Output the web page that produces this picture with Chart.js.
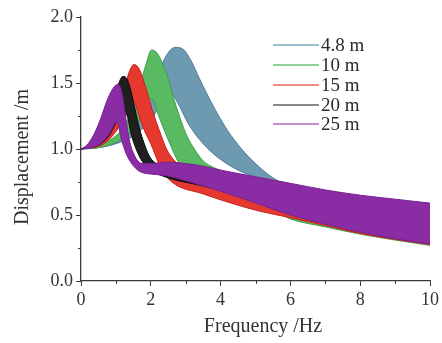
<!DOCTYPE html>
<html>
<head>
<meta charset="utf-8">
<script src="https://cdn.jsdelivr.net/npm/chart.js@4.4.1/dist/chart.umd.min.js"></script>
<style>
  html, body { margin: 0; padding: 0; background: #fff; }
  #wrap { width: 442px; height: 343px; }
</style>
</head>
<body>
<div id="wrap"><canvas id="chart" width="442" height="343"></canvas></div>
<script>
// series names (pile heights)
const heights = ["4.8 m", "10 m", "15 m", "20 m", "25 m"];

// each family of curves is drawn as a band: upper and lower edge, [freq Hz, displacement m]
const upper48 = [[0,1.0],[0.5,1.02],[1.0,1.07],[1.5,1.18],[1.9,1.36],[2.2,1.56],[2.45,1.71],[2.7,1.77],[2.95,1.75],[3.15,1.67],[3.4,1.53],[3.8,1.32],[4.2,1.14],[4.6,1.0],[5.0,0.89],[5.4,0.8],[5.8,0.74],[6.5,0.69],[7.5,0.63],[8.5,0.58],[10,0.52]];
const lower48 = [[0,1.0],[0.5,1.01],[1.0,1.04],[1.5,1.1],[2.0,1.22],[2.3,1.35],[2.5,1.45],[2.75,1.36],[3.1,1.18],[3.5,1.04],[4.0,0.92],[4.5,0.84],[5.1,0.77],[5.8,0.66],[7,0.5],[8.5,0.38],[10,0.29]];

const upper10 = [[0,1.0],[0.5,1.03],[1.0,1.1],[1.3,1.2],[1.6,1.4],[1.85,1.63],[2.02,1.75],[2.2,1.72],[2.45,1.57],[2.73,1.32],[3.0,1.12],[3.2,1.02],[3.5,0.91],[3.8,0.86],[4.2,0.82],[5,0.76],[6,0.7],[7,0.65],[8,0.6],[9,0.56],[10,0.53]];
const lower10 = [[0,1.0],[0.5,1.01],[1.0,1.05],[1.4,1.12],[1.7,1.23],[1.95,1.37],[2.05,1.38],[2.2,1.27],[2.5,1.07],[2.82,0.89],[3.2,0.81],[4,0.72],[5,0.6],[6,0.47],[7,0.41],[8,0.355],[9,0.31],[10,0.27]];

const upper15 = [[0,1.0],[0.5,1.04],[0.8,1.12],[1.0,1.22],[1.2,1.4],[1.35,1.56],[1.52,1.64],[1.68,1.6],[1.85,1.47],[2.05,1.29],[2.3,1.1],[2.45,1.0],[2.65,0.92],[2.9,0.86],[3.5,0.8],[4.5,0.72],[6,0.64],[8,0.56],[10,0.5]];
const lower15 = [[0,1.0],[0.5,1.02],[0.8,1.07],[1.1,1.17],[1.3,1.26],[1.5,1.36],[1.7,1.22],[1.85,1.12],[2.0,1.04],[2.15,0.94],[2.3,0.85],[2.6,0.75],[3.5,0.66],[4.3,0.59],[5.1,0.53],[6,0.48],[7,0.42],[8,0.36],[9,0.315],[10,0.275]];

const upper20 = [[0,1.0],[0.3,1.03],[0.6,1.12],[0.85,1.28],[1.0,1.42],[1.1,1.51],[1.2,1.55],[1.32,1.53],[1.42,1.45],[1.55,1.3],[1.68,1.15],[1.8,1.05],[1.95,0.95],[2.1,0.9],[2.5,0.86],[3.5,0.8],[5,0.72],[7,0.62],[10,0.5]];
const lower20 = [[0,1.0],[0.5,1.03],[0.8,1.1],[1.0,1.2],[1.15,1.29],[1.3,1.27],[1.45,1.1],[1.55,1.02],[1.7,0.93],[1.9,0.86],[2.3,0.8],[3.5,0.72],[4.3,0.67],[5.1,0.62],[6,0.54],[7,0.45],[8,0.38],[9,0.325],[10,0.285]];

const upper25 = [[0,1.0],[0.17,1.03],[0.35,1.1],[0.55,1.22],[0.75,1.37],[0.92,1.46],[1.05,1.49],[1.15,1.45],[1.25,1.3],[1.33,1.15],[1.4,1.05],[1.5,0.97],[1.6,0.92],[1.75,0.89],[2.0,0.89],[2.5,0.9],[3.0,0.89],[3.5,0.87],[4.0,0.84],[5.0,0.79],[6.0,0.74],[7.0,0.69],[8.0,0.65],[9.0,0.62],[10,0.59]];
const lower25 = [[0,1.0],[0.3,1.01],[0.6,1.05],[0.85,1.13],[1.0,1.2],[1.07,1.18],[1.15,1.08],[1.22,1.02],[1.3,0.96],[1.48,0.88],[1.68,0.83],[2.0,0.81],[2.4,0.8],[3.0,0.76],[4.0,0.68],[4.8,0.61],[6,0.5],[7,0.43],[8,0.37],[9,0.32],[10,0.28]];

const xTicks = [0, 2, 4, 6, 8, 10];
const yTicks = [0.0, 0.5, 1.0, 1.5, 2.0];

const bands = [
  { name: heights[0], up: upper48, lo: lower48, fill: "#6d9ab1", line: "#4d7d97", key: "#9dbccc" },
  { name: heights[1], up: upper10, lo: lower10, fill: "#5aba62", line: "#3d9f48", key: "#8fd095" },
  { name: heights[2], up: upper15, lo: lower15, fill: "#e5382e", line: "#c8231a", key: "#ee8d88" },
  { name: heights[3], up: upper20, lo: lower20, fill: "#1f1f1f", line: "#0a0a0a", key: "#8a8a8a" },
  { name: heights[4], up: upper25, lo: lower25, fill: "#8a2ca4", line: "#7a2094", key: "#bf92cf" }
];

const toPts = arr => arr.map(p => ({ x: p[0], y: p[1] }));

// build datasets: upper edge, then lower edge filled up to it
const datasets = [];
bands.forEach((b, i) => {
  const ord = bands.length - i; // last family on top
  const upIdx = datasets.length;
  datasets.push({
    label: b.name, data: toPts(b.up), borderColor: b.line, borderWidth: 1,
    pointRadius: 0, fill: false, cubicInterpolationMode: "monotone", order: ord
  });
  datasets.push({
    label: b.name + " lo", data: toPts(b.lo), borderColor: b.line, borderWidth: 1,
    pointRadius: 0, backgroundColor: b.fill, fill: { target: upIdx },
    cubicInterpolationMode: "monotone", order: ord
  });
});

const serif = "'Liberation Serif', 'DejaVu Serif', serif";
const axisColor = "#3a3a3a";

// minor ticks, axis titles and legend
const extras = {
  id: "extras",
  afterDraw(chart) {
    const ctx = chart.ctx;
    const xs = chart.scales.x, ys = chart.scales.y;
    const area = chart.chartArea;
    ctx.save();
    ctx.strokeStyle = axisColor;
    ctx.lineWidth = 1;
    for (let v = 1; v < 10; v += 2) {
      const px = Math.round(xs.getPixelForValue(v)) + 0.5;
      ctx.beginPath(); ctx.moveTo(px, area.bottom); ctx.lineTo(px, area.bottom + 3); ctx.stroke();
    }
    for (let v = 0.25; v < 2; v += 0.5) {
      const py = Math.round(ys.getPixelForValue(v)) + 0.5;
      ctx.beginPath(); ctx.moveTo(area.left, py); ctx.lineTo(area.left - 3, py); ctx.stroke();
    }

    // axis titles
    ctx.fillStyle = "#333";
    ctx.font = "20px " + serif;
    ctx.textAlign = "center";
    ctx.textBaseline = "middle";
    ctx.fillText("Frequency /Hz", 263, 327);
    ctx.save();
    ctx.translate(23, 157);
    ctx.rotate(-Math.PI / 2);
    ctx.fillText("Displacement /m", 0, 0);
    ctx.restore();

    // legend
    const rowY = [45, 65, 85, 105, 124];
    ctx.font = "19px " + serif;
    ctx.textBaseline = "middle";
    ctx.textAlign = "left";
    bands.forEach((b, i) => {
      ctx.strokeStyle = b.key;
      ctx.lineWidth = 2;
      ctx.beginPath(); ctx.moveTo(273, rowY[i]); ctx.lineTo(319, rowY[i]); ctx.stroke();
      ctx.fillStyle = "#2a2a2a";
      ctx.fillText(b.name, 321, rowY[i] + 1);
    });
    ctx.restore();
  }
};

new Chart(document.getElementById("chart").getContext("2d"), {
  type: "line",
  data: { datasets },
  options: {
    responsive: false,
    animation: false,
    events: [],
    layout: { padding: { left: 0, right: 10, top: 17, bottom: 0 } },
    plugins: { legend: { display: false }, tooltip: { enabled: false } },
    scales: {
      x: {
        type: "linear", min: 0, max: 10,
        afterBuildTicks: s => { s.ticks = xTicks.map(v => ({ value: v })); },
        afterFit: s => { s.height = 62; },
        border: { color: axisColor, width: 1.3 },
        grid: { drawOnChartArea: false, drawTicks: true, tickLength: 5, tickColor: axisColor },
        ticks: { color: "#333", padding: 3, font: { family: serif, size: 18 }, maxRotation: 0 }
      },
      y: {
        type: "linear", min: 0, max: 2,
        afterBuildTicks: s => { s.ticks = yTicks.map(v => ({ value: v })); },
        afterFit: s => { s.width = 81; },
        border: { color: axisColor, width: 1.3 },
        grid: { drawOnChartArea: false, drawTicks: true, tickLength: 5, tickColor: axisColor },
        ticks: { color: "#333", padding: 3, font: { family: serif, size: 18 }, callback: v => v.toFixed(1) }
      }
    }
  },
  plugins: [extras]
});
</script>
</body>
</html>
